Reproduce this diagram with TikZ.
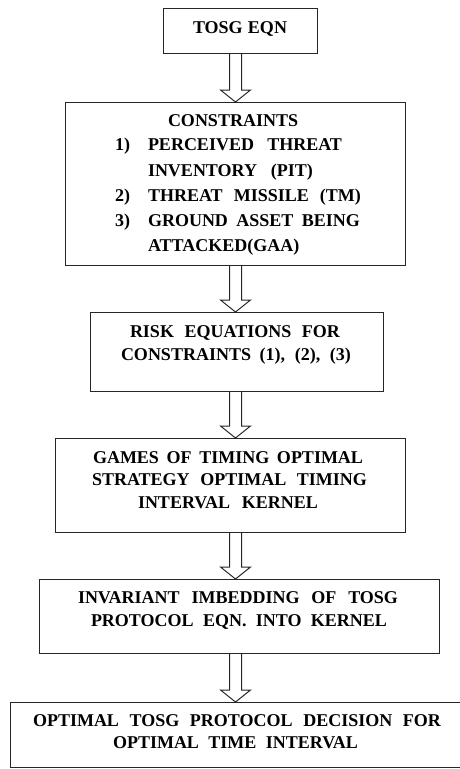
\documentclass[tikz,border=0pt]{standalone}
\usepackage{fontspec}
\setmainfont{Liberation Serif}
\usetikzlibrary{calc}
\newcommand\jline[2]{\makebox[#1pt][s]{#2}}
\tikzset{
  box/.style={draw=black!85, line width=1pt, inner sep=0pt, outer sep=0pt, fill=none},
  txt/.style={inner sep=0pt, outer sep=0pt, anchor=base west, font=\bfseries\fontsize{18pt}{25pt}\selectfont},
  arr/.style={draw=black!85, line width=1pt, line join=miter}
}
\newcommand\blockarrow[2]{%
  \draw[arr] let \p1=(ax |- #1.south), \p2=(ax |- #2.north) in
    (\x1-6pt,\y1) -- (\x1-6pt,\y2+12pt) -- (\x1-15pt,\y2+12pt) -- (\x2,\y2)
    -- (\x1+15pt,\y2+12pt) -- (\x1+6pt,\y2+12pt) -- (\x1+6pt,\y1);}
\begin{document}
\begin{tikzpicture}[x=1pt,y=-1pt]
\useasboundingbox (0,0) rectangle (460,769);
\fill[white] (0,0) rectangle (460,769);
\coordinate (ax) at (235.5,0);
% boxes
\node[box, minimum width=154pt, minimum height=45pt] (b1) at (240,30.5) {};
\node[box, minimum width=340pt, minimum height=163pt] (b2) at (235,183.5) {};
\node[box, minimum width=293pt, minimum height=79pt] (b3) at (236.5,351.5) {};
\node[box, minimum width=350pt, minimum height=94pt] (b4) at (230,485) {};
\node[box, minimum width=400pt, minimum height=74pt] (b5) at (239,616) {};
\node[box, minimum width=452pt, minimum height=65pt] (b6) at (236,734.5) {};
% texts
\node[txt] (t1) at (193,33) {\jline{94}{TOSG EQN}};
\node[txt] (t2a) at (168,126) {CONSTRAINTS};
\node[txt] (n1) at (115,150) {1)};
\node[txt] (t2b) at (148,150) {\jline{194}{PERCEIVED THREAT}};
\node[txt] (t2c) at (148,176) {\jline{165}{INVENTORY (PIT)}};
\node[txt] (n2) at (115,201) {2)};
\node[txt] (t2d) at (148,201) {\jline{213}{THREAT MISSILE (TM)}};
\node[txt] (n3) at (115,226) {3)};
\node[txt] (t2e) at (148,226) {\jline{212}{GROUND ASSET BEING}};
\node[txt] (t2f) at (148,251) {ATTACKED(GAA)};
\node[txt] (t3a) at (130,337) {\jline{210}{RISK EQUATIONS FOR}};
\node[txt] (t3b) at (121,360) {\jline{230}{CONSTRAINTS (1), (2), (3)}};
\node[txt] (t4a) at (93,463) {\jline{270}{GAMES OF TIMING OPTIMAL}};
\node[txt] (t4b) at (92,485) {\jline{275}{STRATEGY OPTIMAL TIMING}};
\node[txt] (t4c) at (138,508) {\jline{180}{INTERVAL KERNEL}};
\node[txt] (t5a) at (78,603) {\jline{320}{INVARIANT IMBEDDING OF TOSG}};
\node[txt] (t5b) at (91,626) {\jline{296}{PROTOCOL EQN. INTO KERNEL}};
\node[txt] (t6a) at (33,726) {\jline{408}{OPTIMAL TOSG PROTOCOL DECISION FOR}};
\node[txt] (t6b) at (113,748) {\jline{245}{OPTIMAL TIME INTERVAL}};
% arrows
\blockarrow{b1}{b2}
\blockarrow{b2}{b3}
\blockarrow{b3}{b4}
\blockarrow{b4}{b5}
\blockarrow{b5}{b6}
\end{tikzpicture}
\end{document}
